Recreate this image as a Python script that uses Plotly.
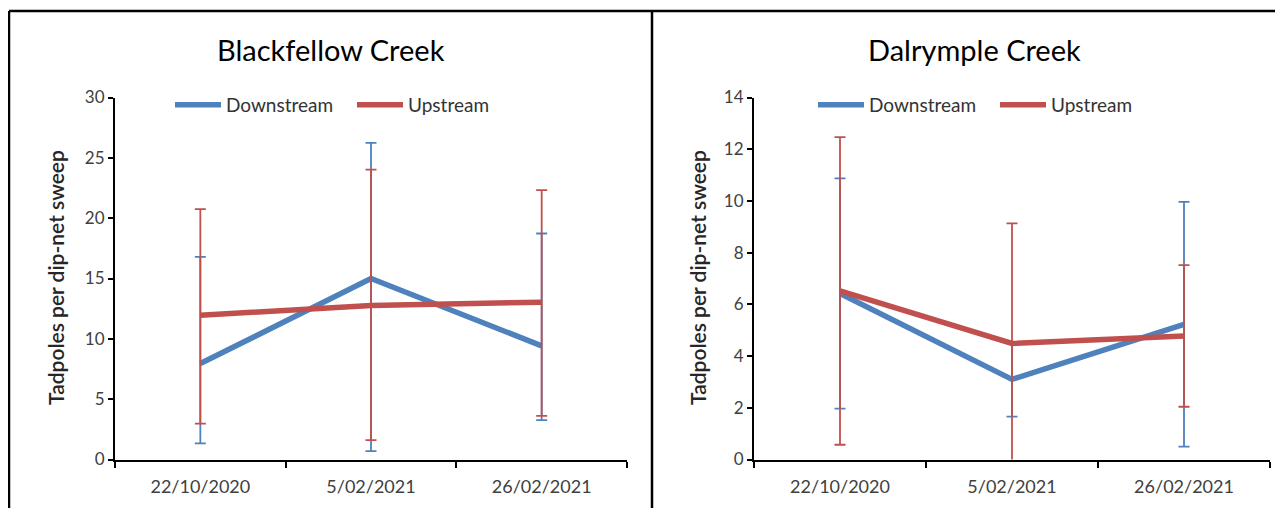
import plotly.graph_objects as go

# The page body adds an 8px margin, so the figure is sized to the window minus it.
OFF = 8
W, H = 1283 - OFF, 508 - OFF

dates = ["22/10/2020", "5/02/2021", "26/02/2021"]

# Blackfellow Creek
bf_down = [7.95, 15.0, 9.42]
bf_down_plus = [8.85, 11.24, 9.31]
bf_down_minus = [6.62, 14.31, 6.16]
bf_up = [11.96, 12.76, 13.04]
bf_up_plus = [8.79, 11.27, 9.28]
bf_up_minus = [8.98, 11.16, 9.42]

# Dalrymple Creek
dr_down = [6.42, 3.10, 5.23]
dr_down_err = [4.45, 1.44, 4.73]
dr_up = [6.52, 4.49, 4.78]
dr_up_err = [5.95, 4.64, 2.74]

bf_yticks = [0, 5, 10, 15, 20, 25, 30]
dr_yticks = [0, 2, 4, 6, 8, 10, 12, 14]

BLUE = "#4F81BD"
RED = "#C0504D"
FONT = "Lato"
TXT = "#404040"


def px(x):
    return (x - OFF) / W


def py(y):
    return 1 - (y - OFF) / H


fig = go.Figure()


def add_series(xa, ya, y, plus, minus, color, name, legend):
    fig.add_trace(go.Scatter(
        x=dates, y=y, mode="lines", name=name,
        line=dict(color=color, width=5.5),
        error_y=dict(type="data", array=plus, arrayminus=minus,
                     symmetric=False, color=color, thickness=1.8, width=5.5),
        xaxis=xa, yaxis=ya, legend=legend, hoverinfo="x+y+name",
    ))


add_series("x", "y", bf_down, bf_down_plus, bf_down_minus, BLUE, "Downstream", "legend")
add_series("x", "y", bf_up, bf_up_plus, bf_up_minus, RED, "Upstream", "legend")
add_series("x2", "y2", dr_down, dr_down_err, dr_down_err, BLUE, "Downstream", "legend2")
add_series("x2", "y2", dr_up, dr_up_err, dr_up_err, RED, "Upstream", "legend2")

xcommon = dict(type="category", range=[-0.5, 2.5], tickson="boundaries",
               ticks="outside", ticklen=6, tickwidth=2, tickcolor="black",
               showline=True, linecolor="black", linewidth=2,
               showgrid=False, zeroline=False, automargin=False,
               tickfont=dict(family=FONT, size=18, color=TXT),
               ticklabelstandoff=10, fixedrange=True)
ycommon = dict(ticks="outside", ticklen=5, tickwidth=2, tickcolor="black",
               showline=True, linecolor="black", linewidth=2,
               showgrid=False, zeroline=False, automargin=False,
               tickfont=dict(family=FONT, size=17, color=TXT),
               ticklabelstandoff=0, fixedrange=True)

ydom = [py(459.5), py(97.5)]

legcommon = dict(orientation="h", yanchor="middle", y=py(105), xanchor="left",
                 font=dict(family=FONT, size=19, color="#333333"),
                 bgcolor="rgba(0,0,0,0)", itemwidth=46, entrywidth=121,
                 entrywidthmode="pixels", itemclick=False, itemdoubleclick=False)

fig.update_layout(
    template="none",
    width=W, height=H, autosize=False,
    margin=dict(l=0, r=0, t=0, b=0, pad=0, autoexpand=False),
    paper_bgcolor="white", plot_bgcolor="white",
    font=dict(family=FONT),
    xaxis=dict(domain=[px(115), px(627)], anchor="y", **xcommon),
    yaxis=dict(domain=ydom, anchor="x", range=[0, 30], tickvals=bf_yticks, **ycommon),
    xaxis2=dict(domain=[px(754), px(1270)], anchor="y2", **xcommon),
    yaxis2=dict(domain=ydom, anchor="x2", range=[0, 14], tickvals=dr_yticks, **ycommon),
    legend=dict(x=px(170), **legcommon),
    legend2=dict(x=px(813), **legcommon),
    showlegend=True,
)

# Chart frames
line = dict(color="black", width=2.5)
fig.add_shape(type="line", xref="paper", yref="paper", x0=px(9), x1=px(9), y0=py(11), y1=-0.02, line=line)
fig.add_shape(type="line", xref="paper", yref="paper", x0=px(9), x1=1.02, y0=py(11), y1=py(11), line=line)
fig.add_shape(type="line", xref="paper", yref="paper", x0=px(652), x1=px(652), y0=py(11), y1=-0.02, line=line)

# Titles
for x, txt in [(331, "Blackfellow Creek"), (974, "Dalrymple Creek")]:
    fig.add_annotation(x=px(x), y=py(50), xref="paper", yref="paper", text=txt,
                       showarrow=False, xanchor="center", yanchor="middle",
                       font=dict(family=FONT, size=29, color="black"))

# Y-axis titles
for x in [55, 697]:
    fig.add_annotation(x=px(x), y=py(278), xref="paper", yref="paper",
                       text="Tadpoles per dip-net sweep", textangle=-90,
                       showarrow=False, xanchor="center", yanchor="middle",
                       font=dict(family=FONT, size=21, color="#262626", weight=600))

fig.write_html("out.html")
